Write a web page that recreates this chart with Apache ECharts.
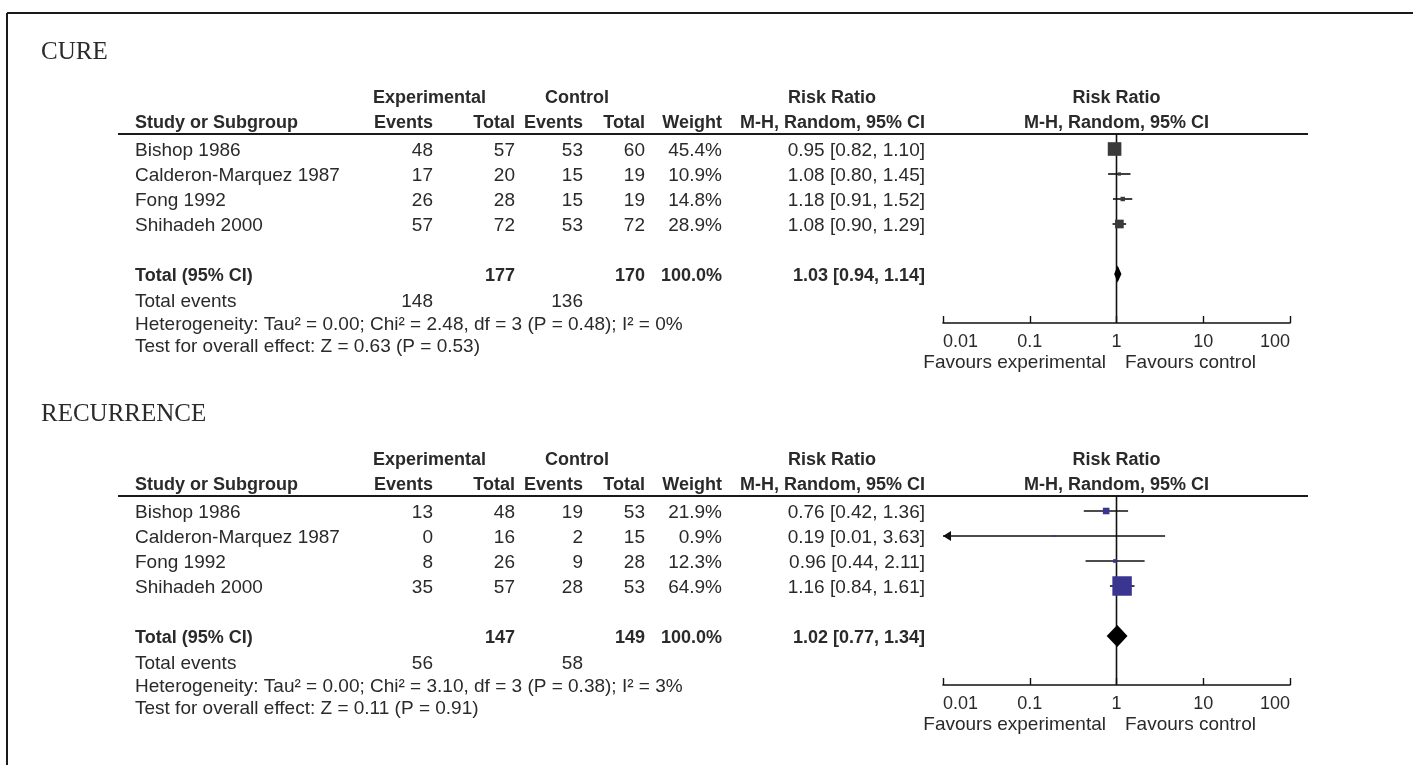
<!DOCTYPE html>
<html><head><meta charset="utf-8">
<script src="https://cdn.jsdelivr.net/npm/echarts@6/dist/echarts.min.js"></script>
<style>html,body{margin:0;padding:0;background:#fff}#c{width:1413px;height:765px}</style>
</head><body><div id="c"></div>
<script>
// ---------- data ----------
const panelTitles = ['CURE', 'RECURRENCE'];
const studies = ['Bishop 1986', 'Calderon-Marquez 1987', 'Fong 1992', 'Shihadeh 2000'];

const cureExpEvents = [48, 17, 26, 57];
const cureExpTotal = [57, 20, 28, 72];
const cureCtrlEvents = [53, 15, 15, 53];
const cureCtrlTotal = [60, 19, 19, 72];
const cureWeight = [45.4, 10.9, 14.8, 28.9];
const cureRR = [0.95, 1.08, 1.18, 1.08];
const cureLo = [0.82, 0.80, 0.91, 0.90];
const cureHi = [1.10, 1.45, 1.52, 1.29];
const cureTotalRR = [1.03, 0.94, 1.14];
const cureTotals = [177, 170];
const cureTotalEvents = [148, 136];
const cureHeterogeneity = 'Heterogeneity: Tau\u00b2 = 0.00; Chi\u00b2 = 2.48, df = 3 (P = 0.48); I\u00b2 = 0%';
const cureOverall = 'Test for overall effect: Z = 0.63 (P = 0.53)';

const recExpEvents = [13, 0, 8, 35];
const recExpTotal = [48, 16, 26, 57];
const recCtrlEvents = [19, 2, 9, 28];
const recCtrlTotal = [53, 15, 28, 53];
const recWeight = [21.9, 0.9, 12.3, 64.9];
const recRR = [0.76, 0.19, 0.96, 1.16];
const recLo = [0.42, 0.01, 0.44, 0.84];
const recHi = [1.36, 3.63, 2.11, 1.61];
const recTotalRR = [1.02, 0.77, 1.34];
const recTotals = [147, 149];
const recTotalEvents = [56, 58];
const recHeterogeneity = 'Heterogeneity: Tau\u00b2 = 0.00; Chi\u00b2 = 3.10, df = 3 (P = 0.38); I\u00b2 = 3%';
const recOverall = 'Test for overall effect: Z = 0.11 (P = 0.91)';

const tickValues = [0.01, 0.1, 1, 10, 100];
const tickLabels = ['0.01', '0.1', '1', '10', '100'];
const favoursLabels = ['Favours experimental', 'Favours control'];

// ---------- layout ----------
const panels = [
  {title: panelTitles[0], ee: cureExpEvents, et: cureExpTotal, ce: cureCtrlEvents, ct: cureCtrlTotal,
   w: cureWeight, rr: cureRR, lo: cureLo, hi: cureHi, tot: cureTotalRR, totals: cureTotals,
   tev: cureTotalEvents, het: cureHeterogeneity, ov: cureOverall},
  {title: panelTitles[1], ee: recExpEvents, et: recExpTotal, ce: recCtrlEvents, ct: recCtrlTotal,
   w: recWeight, rr: recRR, lo: recLo, hi: recHi, tot: recTotalRR, totals: recTotals,
   tev: recTotalEvents, het: recHeterogeneity, ov: recOverall}
];
const OFF = [0, 362];
const SQ_COLOR = ['#3a3a3a', '#3b3592'];
const DIA_HALF = [8.5, 11];
const HDR_LINE = 134, ROW0 = 149, ROW_H = 25, AXIS_Y = 323;
const Y_MIN = (HDR_LINE - ROW0) / ROW_H, Y_MAX = (AXIS_Y - ROW0) / ROW_H;
const TOTAL_ROW = 5;
const X_LEFT = 943, X_RIGHT = 1290;
const AX_MIN = 0.01, AX_MAX = 100;
const FONT = '"Liberation Sans", Arial, sans-serif';
const TXT = '#2a2a2a';
const REG = 19, BOLD = 18;
const COL = {study: 135, ee: 433, et: 515, ce: 583, ct: 645, w: 722, ci: 925};

function fmtCI(r, l, h) { return r.toFixed(2) + ' [' + l.toFixed(2) + ', ' + h.toFixed(2) + ']'; }

const graphic = [];
function txt(x, y, s, align, bold, size, family) {
  graphic.push({type: 'text', x: x, y: y, silent: true,
    style: {text: String(s), fill: TXT, textAlign: align || 'left', textVerticalAlign: 'middle',
      font: (bold ? 'bold ' : '') + (size || (bold ? BOLD : REG)) + 'px ' + (family || FONT)}});
}
function hline(x1, x2, y, w) {
  graphic.push({type: 'line', silent: true, shape: {x1: x1, y1: y, x2: x2, y2: y},
    style: {stroke: '#1a1a1a', lineWidth: w || 2}});
}

// frame
hline(7, 1413, 13, 2);
graphic.push({type: 'line', silent: true, shape: {x1: 7, y1: 13, x2: 7, y2: 765}, style: {stroke: '#1a1a1a', lineWidth: 2}});

panels.forEach((p, k) => {
  const o = OFF[k];
  const ry = r => o + ROW0 + r * ROW_H + 2;
  txt(41, o + 52, p.title, 'left', false, 25, '"Liberation Serif", "Times New Roman", serif');
  // headers
  txt(373, o + 98, 'Experimental', 'left', true);
  txt(545, o + 98, 'Control', 'left', true);
  txt(832, o + 98, 'Risk Ratio', 'center', true);
  txt((X_LEFT + X_RIGHT) / 2, o + 98, 'Risk Ratio', 'center', true);
  txt(COL.study, o + 123, 'Study or Subgroup', 'left', true);
  txt(COL.ee, o + 123, 'Events', 'right', true);
  txt(COL.et, o + 123, 'Total', 'right', true);
  txt(COL.ce, o + 123, 'Events', 'right', true);
  txt(COL.ct, o + 123, 'Total', 'right', true);
  txt(COL.w, o + 123, 'Weight', 'right', true);
  txt(COL.ci, o + 123, 'M-H, Random, 95% CI', 'right', true);
  txt((X_LEFT + X_RIGHT) / 2, o + 123, 'M-H, Random, 95% CI', 'center', true);
  hline(118, 1308, o + HDR_LINE, 2);
  // study rows
  studies.forEach((s, i) => {
    const y = ry(i);
    txt(COL.study, y, s, 'left');
    txt(COL.ee, y, p.ee[i], 'right');
    txt(COL.et, y, p.et[i], 'right');
    txt(COL.ce, y, p.ce[i], 'right');
    txt(COL.ct, y, p.ct[i], 'right');
    txt(COL.w, y, p.w[i].toFixed(1) + '%', 'right');
    txt(COL.ci, y, fmtCI(p.rr[i], p.lo[i], p.hi[i]), 'right');
  });
  // total row
  const ty = ry(TOTAL_ROW);
  const wsum = p.w.reduce((a, b) => a + b, 0);
  txt(COL.study, ty, 'Total (95% CI)', 'left', true);
  txt(COL.et, ty, p.totals[0], 'right', true);
  txt(COL.ct, ty, p.totals[1], 'right', true);
  txt(COL.w, ty, wsum.toFixed(1) + '%', 'right', true);
  txt(COL.ci, ty, fmtCI(p.tot[0], p.tot[1], p.tot[2]), 'right', true);
  // summary lines
  txt(COL.study, o + 302, 'Total events', 'left');
  txt(COL.ee, o + 302, p.tev[0], 'right');
  txt(COL.ce, o + 302, p.tev[1], 'right');
  txt(COL.study, o + 325, p.het, 'left');
  txt(COL.study, o + 347, p.ov, 'left');
  // favours
  txt(1106, o + 363, favoursLabels[0], 'right', false, 19);
  txt(1125, o + 363, favoursLabels[1], 'left', false, 19);
});

// ---------- chart ----------
const chart = echarts.init(document.getElementById('c'), null, {renderer: 'canvas'});

function renderStudy(k) {
  return function (params, api) {
    const rr = api.value(0), lo = api.value(1), hi = api.value(2), row = api.value(3), w = api.value(4);
    const c = api.coord([rr, row]);
    const a = api.coord([Math.max(lo, AX_MIN), row]);
    const b = api.coord([Math.min(hi, AX_MAX), row]);
    const side = Math.max(2, w * 0.3);
    const ch = [
      {type: 'line', shape: {x1: a[0], y1: a[1], x2: b[0], y2: b[1]}, style: {stroke: '#111', lineWidth: 1.6}},
      {type: 'rect', shape: {x: c[0] - side / 2, y: c[1] - side / 2, width: side, height: side},
        style: {fill: SQ_COLOR[k], stroke: null}}
    ];
    if (lo <= AX_MIN) {
      ch.push({type: 'polygon', shape: {points: [[a[0], a[1]], [a[0] + 8, a[1] - 5], [a[0] + 8, a[1] + 5]]},
        style: {fill: '#111'}});
    }
    if (hi >= AX_MAX) {
      ch.push({type: 'polygon', shape: {points: [[b[0], b[1]], [b[0] - 8, b[1] - 5], [b[0] - 8, b[1] + 5]]},
        style: {fill: '#111'}});
    }
    return {type: 'group', children: ch};
  };
}
function renderDiamond(k) {
  return function (params, api) {
    const row = api.value(3);
    const c = api.coord([api.value(0), row]);
    const a = api.coord([api.value(1), row]);
    const b = api.coord([api.value(2), row]);
    const h = DIA_HALF[k];
    return {type: 'polygon', shape: {points: [[a[0], a[1]], [c[0], c[1] - h], [b[0], b[1]], [c[0], c[1] + h]]},
      style: {fill: '#000'}};
  };
}
function renderNull(params, api) {
  const t = api.coord([api.value(0), Y_MIN]);
  const b = api.coord([api.value(0), Y_MAX]);
  return {type: 'line', shape: {x1: t[0], y1: t[1], x2: b[0], y2: b[1]}, style: {stroke: '#111', lineWidth: 1.6}};
}

const grids = [], xAxes = [], yAxes = [], series = [];
panels.forEach((p, k) => {
  grids.push({left: X_LEFT, width: X_RIGHT - X_LEFT, top: OFF[k] + HDR_LINE, height: AXIS_Y - HDR_LINE, containLabel: false});
  xAxes.push({type: 'log', logBase: 10, min: AX_MIN, max: AX_MAX, gridIndex: k, position: 'bottom',
    axisLine: {show: true, onZero: false, lineStyle: {color: '#111', width: 1.6}},
    axisTick: {show: true, inside: true, length: 7, lineStyle: {color: '#111', width: 1.4}},
    splitLine: {show: false}, minorTick: {show: false},
    axisLabel: {show: true, margin: 10, color: TXT, fontFamily: FONT, fontSize: 18,
      alignMinLabel: 'left', alignMaxLabel: 'right',
      formatter: v => { const i = tickValues.findIndex(t => Math.abs(Math.log10(t) - Math.log10(v)) < 1e-6); return i >= 0 ? tickLabels[i] : ''; }}});
  yAxes.push({type: 'value', gridIndex: k, min: Y_MIN, max: Y_MAX, inverse: true, show: false});
  series.push({type: 'custom', xAxisIndex: k, yAxisIndex: k, clip: false, z: 3,
    encode: {x: 0, y: 1}, data: [[1, 0]], renderItem: renderNull, silent: true});
  series.push({type: 'custom', xAxisIndex: k, yAxisIndex: k, clip: false, z: 4,
    encode: {x: 0, y: 3}, silent: true,
    data: p.rr.map((v, i) => [v, p.lo[i], p.hi[i], i, p.w[i]]), renderItem: renderStudy(k)});
  series.push({type: 'custom', xAxisIndex: k, yAxisIndex: k, clip: false, z: 4,
    encode: {x: 0, y: 3}, silent: true,
    data: [[p.tot[0], p.tot[1], p.tot[2], TOTAL_ROW]], renderItem: renderDiamond(k)});
});

chart.setOption({
  animation: false,
  backgroundColor: '#fff',
  grid: grids, xAxis: xAxes, yAxis: yAxes, series: series,
  graphic: graphic
});
</script>
</body></html>
